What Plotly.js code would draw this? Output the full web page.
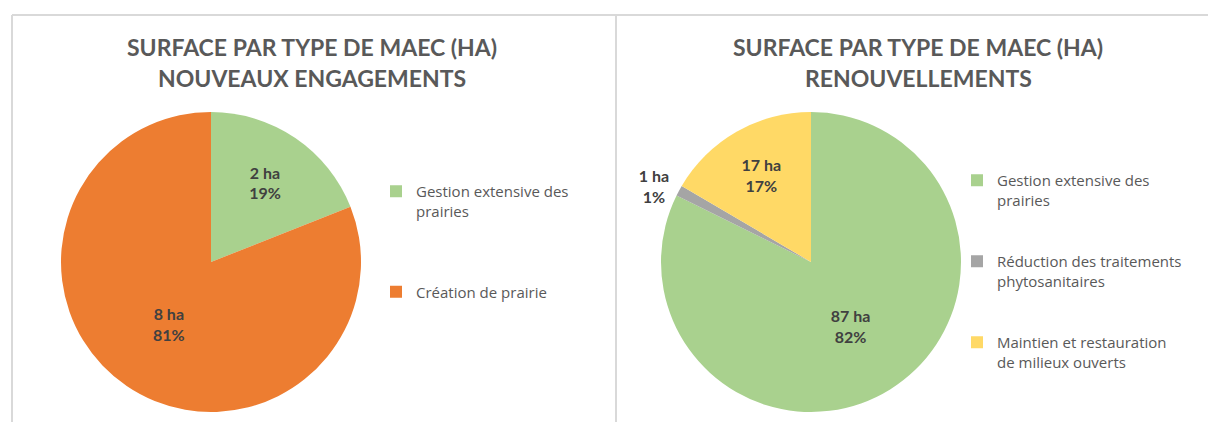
<!DOCTYPE html>
<html><head><meta charset="utf-8">
<script src="https://cdn.plot.ly/plotly-3.0.1.min.js"></script>
<style>html,body{margin:0;padding:0;background:#fff;} #chart{width:1208px;height:422px;}</style>
</head><body><div id="chart"></div>
<script>
// ---- data ----
const titleLeft = ["SURFACE PAR TYPE DE MAEC (HA)", "NOUVEAUX ENGAGEMENTS"];
const titleRight = ["SURFACE PAR TYPE DE MAEC (HA)", "RENOUVELLEMENTS"];
const newCategories = ["Gestion extensive des prairies", "Création de prairie"];
const newValues = [1.9, 8.1];
const newColors = ["#A9D18E", "#ED7D31"];
const renewCategories = ["Gestion extensive des prairies", "Réduction des traitements phytosanitaires", "Maintien et restauration de milieux ouverts"];
const renewValues = [86.6, 1.2, 17.4];
const renewColors = ["#A9D18E", "#A5A5A5", "#FFD966"];
const unit = "ha";

// ---- helpers ----
const W = 1208, H = 422;
const px = x => x / W;
const py = y => 1 - y / H;
const R = 150;
const FONT = "Lato, 'Open Sans', sans-serif";
const LEGEND_FONT = "'Open Sans', Lato, sans-serif";
const GREY = "#595959";

function wrap(s, max) {
  const words = s.split(' '); const lines = []; let cur = '';
  for (const w of words) {
    if (cur && (cur + ' ' + w).length > max) { lines.push(cur); cur = w; }
    else cur = cur ? cur + ' ' + w : w;
  }
  lines.push(cur);
  return lines.join('<br>');
}
function legendLabels(names, max, spacer) {
  return names.map((n, i) => wrap(n, max) + (i < names.length - 1 ? '<br> '.repeat(spacer) : ''));
}

const textFont = {family: FONT, size: 16, color: '#404040', weight: 'bold'};

const pieLeft = {
  type: 'pie', labels: legendLabels(newCategories, 22, 3), values: newValues,
  marker: {colors: newColors, line: {width: 0}},
  sort: false, direction: 'clockwise', rotation: 0,
  texttemplate: '%{value:.0f} ' + unit + '<br>%{percent:.0%}',
  textposition: 'inside', insidetextorientation: 'horizontal',
  textfont: textFont,
  domain: {x: [px(211 - R), px(211 + R)], y: [py(262 + R), py(262 - R)]},
  legend: 'legend', hoverinfo: 'label+value+percent'
};
const pieRight = {
  type: 'pie', labels: legendLabels(renewCategories, 25, 2), values: renewValues,
  marker: {colors: renewColors, line: {width: 0}},
  sort: false, direction: 'clockwise', rotation: 0,
  texttemplate: '%{value:.0f} ' + unit + '<br>%{percent:.0%}',
  textposition: ['inside', 'outside', 'inside'], insidetextorientation: 'horizontal',
  textfont: textFont, outsidetextfont: textFont,
  domain: {x: [px(811 - R), px(811 + R)], y: [py(262 + R), py(262 - R)]},
  legend: 'legend2', hoverinfo: 'label+value+percent'
};

function titleAnn(lines, cx) {
  return lines.map((t, i) => ({
    xref: 'paper', yref: 'paper', x: px(cx), y: py(47 + i * 31),
    xanchor: 'center', yanchor: 'middle', showarrow: false,
    text: '<b>' + t + '</b>', font: {family: FONT, size: 23, color: GREY}
  }));
}

const legendBase = {
  xanchor: 'left', yanchor: 'top', valign: 'top', bgcolor: 'rgba(0,0,0,0)',
  font: {family: LEGEND_FONT, size: 15, color: GREY}, itemclick: false, itemdoubleclick: false
};

const lineStyle = {color: '#D9D9D9', width: 2};
const layout = {
  width: W, height: H, margin: {l: 0, r: 0, t: 0, b: 0},
  paper_bgcolor: '#ffffff', plot_bgcolor: '#ffffff', showlegend: true,
  legend: Object.assign({x: px(376), y: py(175)}, legendBase),
  legend2: Object.assign({x: px(957), y: py(164)}, legendBase),
  annotations: titleAnn(titleLeft, 312).concat(titleAnn(titleRight, 918)),
  shapes: [
    {type: 'line', xref: 'paper', yref: 'paper', x0: px(12), x1: 1, y0: py(15), y1: py(15), line: lineStyle},
    {type: 'line', xref: 'paper', yref: 'paper', x0: px(12), x1: px(12), y0: py(15), y1: 0, line: lineStyle},
    {type: 'line', xref: 'paper', yref: 'paper', x0: px(616), x1: px(616), y0: py(15), y1: 0, line: lineStyle}
  ]
};

Plotly.newPlot('chart', [pieLeft, pieRight], layout, {displayModeBar: false, staticPlot: true});
</script>
</body></html>
